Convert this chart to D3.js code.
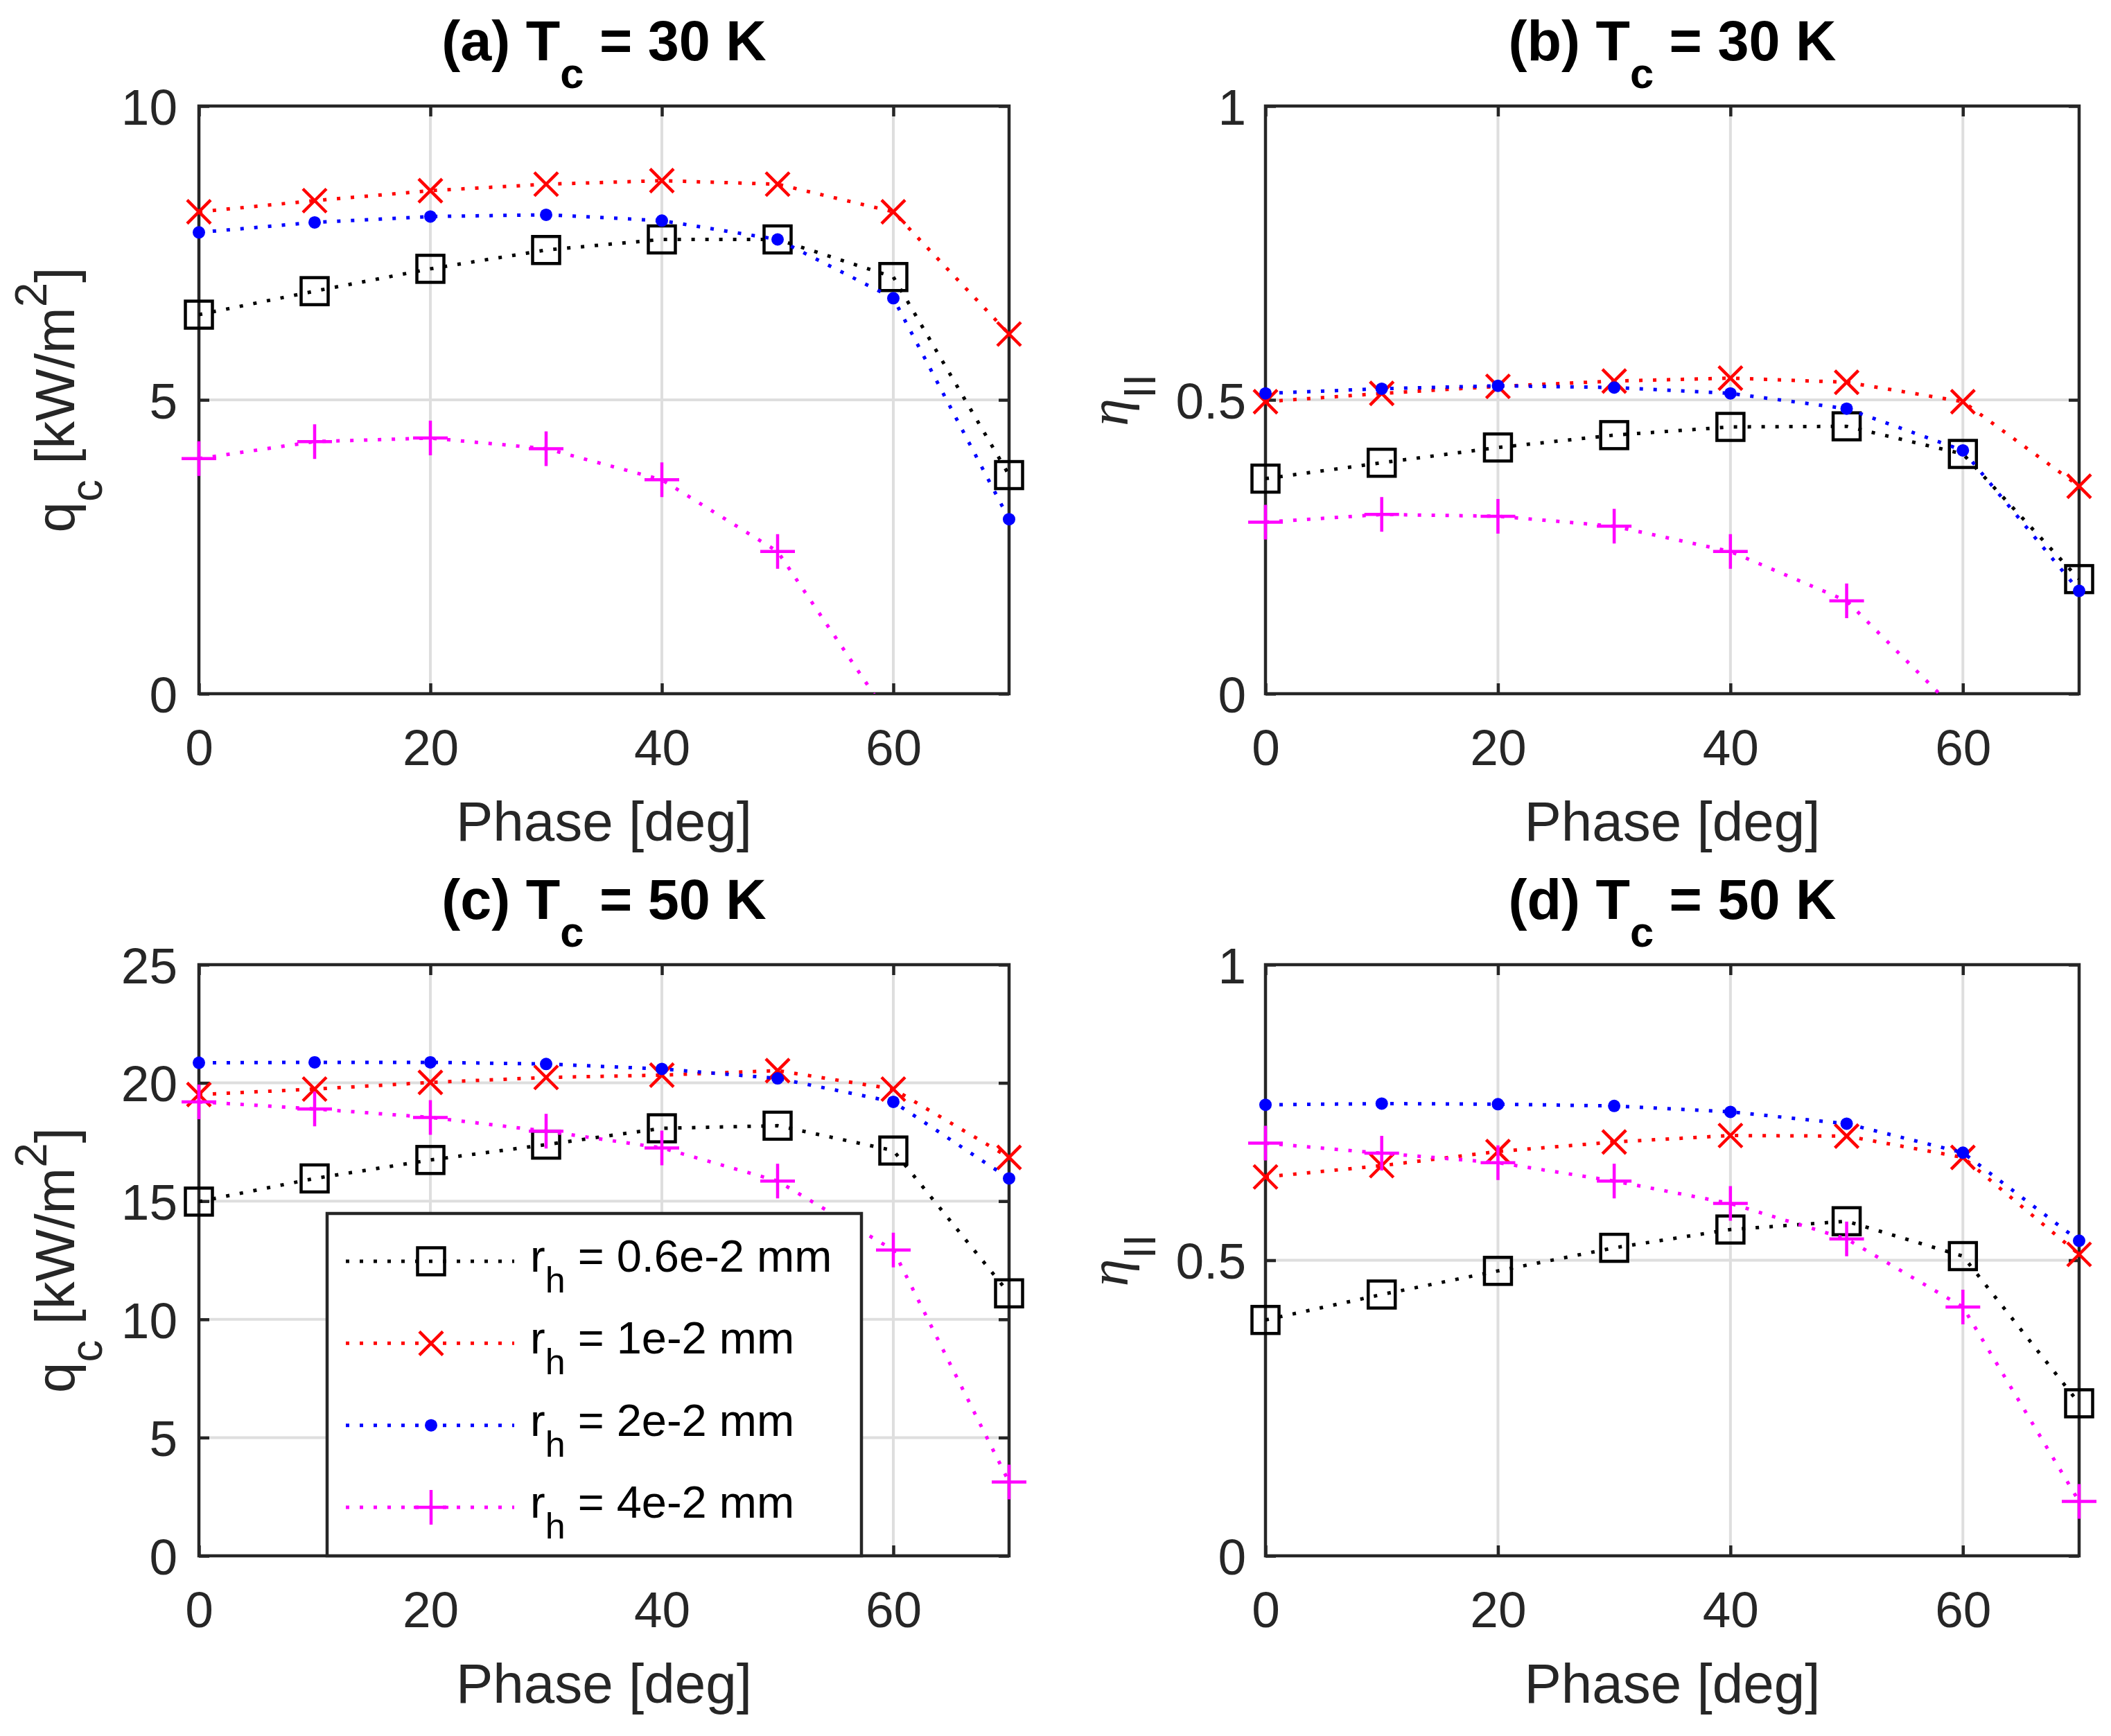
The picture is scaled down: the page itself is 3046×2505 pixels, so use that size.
<!DOCTYPE html>
<html>
<head>
<meta charset="utf-8">
<script src="https://cdn.jsdelivr.net/npm/d3@7"></script>
<style>
body { margin: 0; background: #fff; }
text { font-family: "Liberation Sans", Arial, Helvetica, sans-serif; white-space: pre; }
</style>
</head>
<body>
<div id="chart"></div>
<script>
// phase angle (x values), shared by every panel
const phase = [0, 10, 20, 30, 40, 50, 60, 70];
const radii = ['0.6e-2', '1e-2', '2e-2', '4e-2'];

// tick values
const xTicks = [0, 20, 40, 60];
const yTicksQc30 = [0, 5, 10];
const yTicksQc50 = [0, 5, 10, 15, 20, 25];
const yTicksEta = [0, 0.5, 1];

// (a) q_c, Tc = 30 K
const qc30_r06 = [6.45, 6.85, 7.23, 7.55, 7.73, 7.73, 7.09, 3.72];
const qc30_r1  = [8.20, 8.39, 8.56, 8.67, 8.73, 8.67, 8.20, 6.12];
const qc30_r2  = [7.85, 8.02, 8.12, 8.15, 8.05, 7.73, 6.73, 2.97];
const qc30_r4  = [4.00, 4.29, 4.35, 4.17, 3.64, 2.42, -0.50, null];

// (b) eta_II, Tc = 30 K
const eta30_r06 = [0.366, 0.393, 0.419, 0.440, 0.454, 0.455, 0.408, 0.195];
const eta30_r1  = [0.497, 0.511, 0.523, 0.532, 0.537, 0.530, 0.497, 0.353];
const eta30_r2  = [0.511, 0.519, 0.524, 0.521, 0.511, 0.485, 0.414, 0.175];
const eta30_r4  = [0.292, 0.305, 0.302, 0.285, 0.242, 0.158, -0.04, null];

// (c) q_c, Tc = 50 K
const qc50_r06 = [14.98, 15.96, 16.74, 17.39, 18.08, 18.19, 17.14, 11.10];
const qc50_r1  = [19.51, 19.74, 20.02, 20.23, 20.33, 20.52, 19.74, 16.85];
const qc50_r2  = [20.85, 20.87, 20.87, 20.80, 20.59, 20.19, 19.20, 15.96];
const qc50_r4  = [19.20, 18.90, 18.54, 17.96, 17.25, 15.85, 12.93, 3.12];

// (d) eta_II, Tc = 50 K
const eta50_r06 = [0.399, 0.442, 0.482, 0.521, 0.552, 0.566, 0.507, 0.258];
const eta50_r1  = [0.641, 0.660, 0.684, 0.700, 0.711, 0.710, 0.674, 0.510];
const eta50_r2  = [0.763, 0.765, 0.764, 0.761, 0.751, 0.731, 0.682, 0.533];
const eta50_r4  = [0.698, 0.681, 0.665, 0.634, 0.596, 0.536, 0.421, 0.092];

const colors = ['#000000', '#ff0000', '#0000ff', '#ff00ff'];
const markers = ['square', 'x', 'dot', 'plus'];
const axisColor = '#262626';
const gridColor = '#dedede';

const W = 3046, H = 2505;
const svg = d3.select('#chart').append('svg')
    .attr('width', W)
    .attr('height', H)
    .style('background', '#fff');

// text with tex-like sub/superscripts, parts = [{t, sub|sup}]
function richText(sel, parts, size, shift, subScale) {
    let cur = 0;
    parts.forEach(p => {
        const target = p.sub ? shift : p.sup ? -shift : 0;
        const ts = sel.append('tspan')
            .attr('dy', target - cur)
            .style('font-size', ((p.sub || p.sup) ? size * subScale : size) + 'px')
            .text(p.t);
        if (p.style) ts.style('font-style', p.style);
        if (p.family) ts.style('font-family', p.family);
        cur = target;
    });
}

function drawMarker(g, type, color, cx, cy) {
    switch (type) {
        case 'square':
            g.append('rect')
                .attr('x', cx - 19.5).attr('y', cy - 19.5)
                .attr('width', 39).attr('height', 39)
                .attr('fill', 'none').attr('stroke', color).attr('stroke-width', 4.5);
            break;
        case 'x':
            g.append('path')
                .attr('d', `M${cx - 17},${cy - 17}L${cx + 17},${cy + 17}M${cx - 17},${cy + 17}L${cx + 17},${cy - 17}`)
                .attr('stroke', color).attr('stroke-width', 4.5).attr('fill', 'none');
            break;
        case 'plus':
            g.append('path')
                .attr('d', `M${cx - 25},${cy}H${cx + 25}M${cx},${cy - 25}V${cy + 25}`)
                .attr('stroke', color).attr('stroke-width', 4.5).attr('fill', 'none');
            break;
        case 'dot':
            g.append('circle')
                .attr('cx', cx).attr('cy', cy).attr('r', 9)
                .attr('fill', color);
            break;
    }
}

const qcLabel = [{t: 'q'}, {t: 'c', sub: true}, {t: ' [kW/m'}, {t: '2', sup: true}, {t: ']'}];
const etaLabel = [{t: '\u03b7', style: 'italic', family: '"Liberation Serif", "Times New Roman", serif'}, {t: 'II', sub: true}];

const panels = [
    {id: 'a', tag: '(a)', tc: '30', left: 287, top: 153, w: 1169, h: 848,
     yDomain: [0, 10], yTicks: yTicksQc30, ylabel: qcLabel, ylabOff: 180, tickPad: 31,
     series: [qc30_r06, qc30_r1, qc30_r2, qc30_r4]},
    {id: 'b', tag: '(b)', tc: '30', left: 1826, top: 153, w: 1174, h: 848,
     yDomain: [0, 1], yTicks: yTicksEta, ylabel: etaLabel, ylabOff: 199, tickPad: 28,
     series: [eta30_r06, eta30_r1, eta30_r2, eta30_r4]},
    {id: 'c', tag: '(c)', tc: '50', left: 287, top: 1392, w: 1169, h: 853,
     yDomain: [0, 25], yTicks: yTicksQc50, ylabel: qcLabel, ylabOff: 180, tickPad: 31,
     series: [qc50_r06, qc50_r1, qc50_r2, qc50_r4], legend: true},
    {id: 'd', tag: '(d)', tc: '50', left: 1826, top: 1392, w: 1174, h: 853,
     yDomain: [0, 1], yTicks: yTicksEta, ylabel: etaLabel, ylabOff: 199, tickPad: 28,
     series: [eta50_r06, eta50_r1, eta50_r2, eta50_r4]}
];

const tickFmt = d3.format('~g');

function styleAxis(ax) {
    ax.select('.domain').remove();
    ax.selectAll('.tick line').attr('stroke', axisColor).attr('stroke-width', 4.5);
    ax.selectAll('text')
        .attr('fill', axisColor)
        .style('font-size', '73px')
        .style('font-family', '"Liberation Sans", Arial, Helvetica, sans-serif');
}

function drawPanel(p) {
    const g = svg.append('g').attr('transform', `translate(${p.left},${p.top})`);
    const x = d3.scaleLinear().domain([0, 70]).range([0, p.w]);
    const y = d3.scaleLinear().domain(p.yDomain).range([p.h, 0]);

    g.append('clipPath').attr('id', 'clip-' + p.id)
        .append('rect').attr('width', p.w).attr('height', p.h);

    // grid
    g.append('g').selectAll('line')
        .data(xTicks.filter(t => t > 0 && t < 70))
        .join('line')
        .attr('x1', d => x(d)).attr('x2', d => x(d))
        .attr('y1', 0).attr('y2', p.h)
        .attr('stroke', gridColor).attr('stroke-width', 4);
    g.append('g').selectAll('line')
        .data(p.yTicks.filter(t => t > p.yDomain[0] && t < p.yDomain[1]))
        .join('line')
        .attr('x1', 0).attr('x2', p.w)
        .attr('y1', d => y(d)).attr('y2', d => y(d))
        .attr('stroke', gridColor).attr('stroke-width', 4);

    // axes, ticks pointing inward
    const bottom = g.append('g').attr('transform', `translate(0,${p.h})`)
        .call(d3.axisBottom(x).tickValues(xTicks).tickFormat(tickFmt)
            .tickSizeInner(-15).tickSizeOuter(0).tickPadding(51));
    styleAxis(bottom);
    const top = g.append('g')
        .call(d3.axisTop(x).tickValues(xTicks).tickSizeInner(-15).tickSizeOuter(0).tickFormat(''));
    styleAxis(top);
    const left = g.append('g')
        .call(d3.axisLeft(y).tickValues(p.yTicks).tickFormat(tickFmt)
            .tickSizeInner(-15).tickSizeOuter(0).tickPadding(p.tickPad));
    styleAxis(left);
    left.selectAll('text').attr('dy', '0.36em');
    const right = g.append('g').attr('transform', `translate(${p.w},0)`)
        .call(d3.axisRight(y).tickValues(p.yTicks).tickSizeInner(-15).tickSizeOuter(0).tickFormat(''));
    styleAxis(right);

    g.append('rect')
        .attr('width', p.w).attr('height', p.h)
        .attr('fill', 'none').attr('stroke', axisColor).attr('stroke-width', 4.5);

    // series
    p.series.forEach((vals, i) => {
        const pts = phase.map((ph, k) => ({x: ph, v: vals[k]}));
        const line = d3.line()
            .defined(d => d.v != null)
            .x(d => x(d.x))
            .y(d => y(d.v));
        g.append('path')
            .datum(pts)
            .attr('d', line)
            .attr('clip-path', `url(#clip-${p.id})`)
            .attr('fill', 'none')
            .attr('stroke', colors[i])
            .attr('stroke-width', 5)
            .attr('stroke-dasharray', '5,15');
        const mg = g.append('g');
        pts.filter(d => d.v != null && d.v >= p.yDomain[0] && d.v <= p.yDomain[1])
            .forEach(d => drawMarker(mg, markers[i], colors[i], x(d.x), y(d.v)));
    });

    // title
    const title = g.append('text')
        .attr('x', p.w / 2).attr('y', -66)
        .attr('text-anchor', 'middle')
        .attr('fill', '#000')
        .style('font-weight', 'bold');
    richText(title, [{t: p.tag + ' T'}, {t: 'c', sub: true}, {t: ' = ' + p.tc + ' K'}], 81, 40, 0.76);

    // x label
    g.append('text')
        .attr('x', p.w / 2).attr('y', p.h + 212)
        .attr('text-anchor', 'middle')
        .attr('fill', axisColor)
        .style('font-size', '80px')
        .text('Phase [deg]');

    // y label
    const yl = g.append('text')
        .attr('transform', `translate(${-p.ylabOff},${p.h / 2}) rotate(-90)`)
        .attr('text-anchor', 'middle')
        .attr('fill', axisColor);
    richText(yl, p.ylabel, 80, 40, 0.8);

    if (p.legend) drawLegend(g, p);
}

function drawLegend(g, p) {
    // legend box in panel coordinates
    const bx = 472 - p.left, by = 1751 - p.top, bw = 1243 - 472, bh = p.h - by;
    const lg = g.append('g');
    lg.append('rect')
        .attr('x', bx).attr('y', by).attr('width', bw).attr('height', bh)
        .attr('fill', '#fff').attr('stroke', axisColor).attr('stroke-width', 4.5);
    const rowY = d3.scalePoint().domain(radii).range([1820 - p.top, 2175 - p.top]);
    radii.forEach((r, i) => {
        const cy = rowY(r);
        lg.append('line')
            .attr('x1', 499 - p.left).attr('x2', 742 - p.left)
            .attr('y1', cy).attr('y2', cy)
            .attr('stroke', colors[i]).attr('stroke-width', 5)
            .attr('stroke-dasharray', '5,15');
        drawMarker(lg, markers[i], colors[i], 622 - p.left, cy);
        const t = lg.append('text')
            .attr('x', 765 - p.left).attr('y', cy + 15)
            .attr('fill', '#000');
        richText(t, [{t: 'r'}, {t: 'h', sub: true}, {t: ' = ' + r + ' mm'}], 65, 30, 0.8);
    });
}

panels.forEach(drawPanel);
</script>
</body>
</html>
